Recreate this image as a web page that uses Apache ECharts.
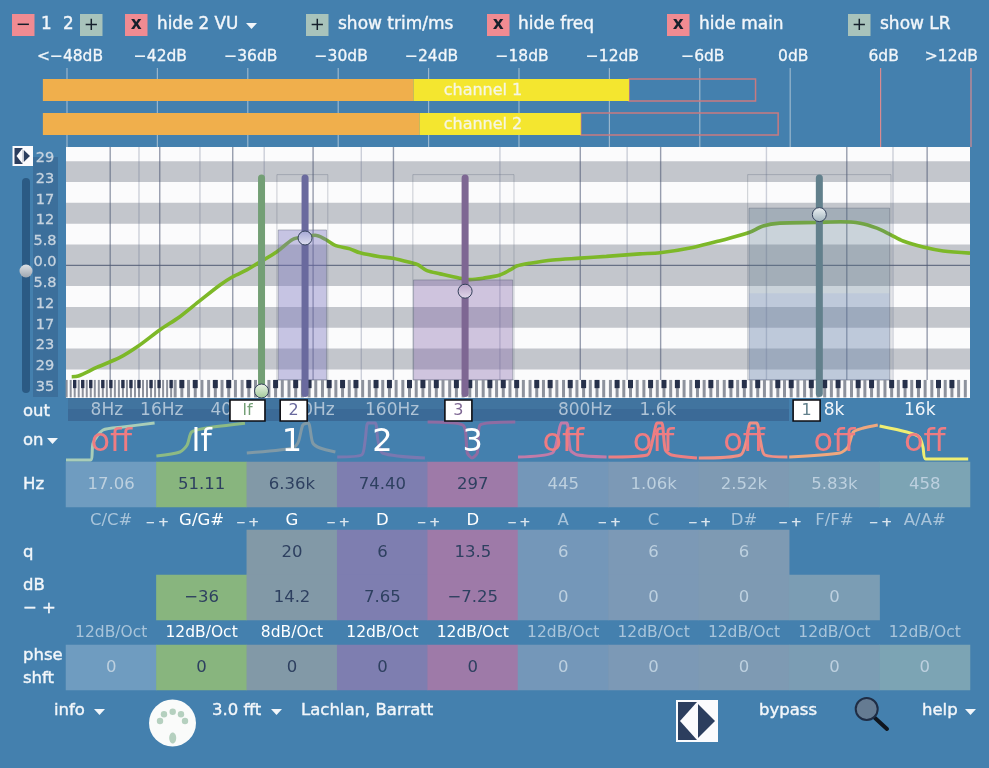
<!DOCTYPE html>
<html lang="en">
<head>
<meta charset="UTF-8">
<title>EQ plugin</title>
<style>
html,body{margin:0;padding:0;background:#4480ae;}
#chart{width:989px;height:768px;}
</style>
</head>
<body>
<div id="chart"></div>
<script src="https://cdn.jsdelivr.net/npm/echarts@6/dist/echarts.min.js"></script>
<script>
// level meter
var channelNames = ['channel 1', 'channel 2'];
var vuStart = [-49.6, -49.6];
var vuOrangeEnd = [-25, -24.6];
var vuYellowEnd = [-10.7, -13.9];
var vuPeak = [-2.3, -0.8];
var dbTicks = [-48, -42, -36, -30, -24, -18, -12, -6, 0, 6, 12];
var dbLabelAt = [-47.8, -41.8, -35.8, -29.8, -23.8, -17.8, -11.8, -5.8, 0.2, 6.2, 10.7];
var dbLabels = ['<−48dB', '−42dB', '−36dB', '−30dB', '−24dB', '−18dB', '−12dB', '−6dB', '0dB', '6dB', '>12dB'];

// eq display, x is semitones from the left edge of the keyboard, y is dB
// the scale labels sit a little above the stripe edges they name
var eqLabelAt = [30, 24.17, 18.34, 12.51, 6.67, 0.84, -4.99, -10.83, -16.66, -22.49, -28.33, -34.16];
var eqTickLabels = ['29', '23', '17', '12', '5.8', '0.0', '5.8', '12', '17', '23', '29', '35'];
var stripeHigh = [29.17, 17.5, 5.83, -11.67, -23.33];
var stripeLow = [23.33, 11.67, -5.83, -17.5, -29.17];
var majorLines = [6.6, 14, 24.9, 36.9, 48.9, 76.8, 88.8, 116.6, 128.6];
var minorLines = [10.9, 20, 29.6, 44.1, 64.8, 83.8, 104.6, 123.5];
var curvePos = [0.85, 1.84, 4.58, 8.06, 10.8, 14, 17, 20, 23, 24.9, 27, 28.5, 31.5, 33.9, 35.7, 37.2, 38.7, 40.2, 42.4, 43.9, 46.9, 48.8, 51.6, 52.6, 53.9, 55.9, 58.8, 60.3, 62.3, 64.8, 66.3, 67.3, 69.3, 72.7, 76.8, 80.7, 85.7, 88.7, 93.6, 97.7, 101.9, 104.1, 106.6, 112.1, 115.6, 118.6, 121.1, 123.1, 125, 128, 131, 135];
var curveDb = [-31.2, -31, -28.6, -25.8, -22.6, -18.1, -14.4, -9.9, -5.5, -3.2, -1.3, 0.4, 3.8, 7.3, 8, 8.4, 7.3, 5.6, 4.6, 3.5, 2.4, 2, 0.7, 0.1, -1.5, -2.4, -3.6, -4, -3.6, -2.7, -1.3, -0.2, 0.6, 1.5, 2, 2.5, 3.2, 3.5, 5, 6.9, 9.1, 11, 11.8, 12, 12.2, 11.8, 10.4, 8.6, 6.8, 5.1, 4, 3.4];

// filter bands drawn on the display
var bandNames = ['lf', '2', '3', '1'];
var bandPos = [29.2, 35.7, 59.6, 112.5];
var bandHandleDb = [-35.2, 7.65, -7.25, 14.2];
var bandColors = ['#739f75', '#6a6a9e', '#7e6793', '#62808c'];
var bandHandleTop = ['#eef5ea', '#a4a6d4', '#b8a4c8', '#f0f4f6'];
var bandHandleBottom = ['#9fc896', '#dfe0f0', '#e2d8ea', '#9fb2bc'];
var flagPos = [27.1, 34, 58.6, 110.6];
var flagWidth = [35, 27, 27, 27];
var boxFrom = [31.7, 51.9, 102, 102];
var boxTo = [38.9, 66.7, 123, 123];
var boxTopDb = [9.9, -4.1, 16, -7.8];
var boxFill = ['rgba(120,115,190,0.4)', 'rgba(125,95,165,0.35)', 'rgba(90,120,140,0.3)', 'rgba(130,150,215,0.16)'];
var outerFrom = [31.5, 51.8, 101.8];
var outerTo = [39.1, 66.9, 123.2];
var freqLabelPos = [6.1, 14.3, 24.8, 36.9, 48.7, 77.5, 88.4, 114.7, 127.5];
var freqLabels = ['8Hz', '16Hz', '40Hz', '80Hz', '160Hz', '800Hz', '1.6k', '8k', '16k'];
var keyBlackSteps = [0, 3, 5, 7, 10];
var keyFirst = -11, keyLast = 134, keySqueezeBelow = 16;

// filter table
var filterNames = ['off', 'lf', '1', '2', '3', 'off', 'off', 'off', 'off', 'off'];
var hzValues = ['17.06', '51.11', '6.36k', '74.40', '297', '445', '1.06k', '2.52k', '5.83k', '458'];
var noteNames = ['C/C#', 'G/G#', 'G', 'D', 'D', 'A', 'C', 'D#', 'F/F#', 'A/A#'];
var qValues = [null, null, '20', '6', '13.5', '6', '6', '6', null, null];
var gainValues = [null, '−36', '14.2', '7.65', '−7.25', '0', '0', '0', '0', null];
var slopeLabels = ['12dB/Oct', '12dB/Oct', '8dB/Oct', '12dB/Oct', '12dB/Oct', '12dB/Oct', '12dB/Oct', '12dB/Oct', '12dB/Oct', '12dB/Oct'];
var phaseValues = ['0', '0', '0', '0', '0', '0', '0', '0', '0', '0'];
var cellColors = ['#6f9cc0', '#88b57e', '#8299a7', '#7e7eb0', '#9e7aa8', '#7497b9', '#7c99b6', '#7e9ab3', '#7b9db4', '#7ca4b4'];
var curveColors = ['#a9cdb8', '#8dba84', '#8099a6', '#7a78b0', '#8f6ca2', '#c27ba8', '#ec7f82', '#ee8f85', '#efa77e', '#f0ee72'];

// little response curves above the table, x is column number, y is height in the strip
var miniCurves = [
  [[0, 2], [0.27, 2], [0.3, 19], [0.41, 32], [0.63, 35], [0.98, 39]],
  [[1, 6], [1.26, 10], [1.34, 17], [1.39, 30], [1.56, 34], [1.98, 38.7]],
  [[2, 9], [2.51, 14], [2.57, 20], [2.62, 37], [2.68, 39], [2.73, 19], [2.81, 14], [2.98, 10]],
  [[3, 5], [3.27, 7], [3.31, 22], [3.34, 39], [3.42, 39], [3.45, 22], [3.5, 9], [3.97, 4]],
  [[4, 40], [4.39, 37], [4.44, 9], [4.49, 4], [4.55, 9], [4.58, 37], [4.97, 40]],
  [[5, 5], [5.38, 9], [5.44, 25], [5.48, 39], [5.54, 39], [5.58, 12], [5.66, 7], [5.98, 5]],
  [[6, 5], [6.43, 7], [6.49, 22], [6.54, 39], [6.59, 39], [6.63, 12], [6.7, 7], [6.98, 4]],
  [[7, 4], [7.46, 7], [7.53, 22], [7.57, 39], [7.64, 39], [7.68, 22], [7.73, 7], [7.98, 5]],
  [[8, 5], [8.56, 9], [8.65, 15], [8.71, 30], [8.82, 34], [8.98, 37]],
  [[9, 36], [9.3, 30], [9.44, 25], [9.48, 15], [9.51, 3], [9.98, 3]]
];

var FONT = '"DejaVu Sans"';
var TEXT = '#f2f6fa';
var NAVY = '#2c3e5e';

function isOn(i) { return filterNames[i] !== 'off'; }

function cells(values, row) {
  var out = [];
  values.forEach(function (v, i) {
    if (v === null) return;
    out.push({
      value: [i, row, 1],
      itemStyle: { color: cellColors[i] },
      label: { show: true, formatter: v, color: isOn(i) ? '#2e4060' : '#bdd0df', fontSize: 16.5, fontFamily: FONT }
    });
  });
  return out;
}

function text(x, y, s, size, color, align) {
  var fill = color || TEXT;
  return {
    type: 'text', x: x, y: y, z: 5,
    style: { text: s, fontSize: size || 16, fontFamily: FONT, fill: fill, stroke: fill, lineWidth: 0.4, align: align || 'left', verticalAlign: 'middle' }
  };
}

function button(x, glyph) {
  var red = glyph !== '+';
  return [
    { type: 'rect', shape: { x: x, y: 14, width: 22.5, height: 22 }, style: { fill: red ? '#f08b92' : '#a8c3bb' } },
    { type: 'text', x: x + 11.2, y: 25, z: 5, style: { text: glyph, fontSize: glyph === 'x' ? 17 : 18, fontWeight: glyph === 'x' ? 'bold' : 'normal', fontFamily: FONT, fill: '#16202c', align: 'center', verticalAlign: 'middle' } }
  ];
}

function caret(x, y) {
  return { type: 'polygon', shape: { points: [[x, y], [x + 11, y], [x + 5.5, y + 6]] }, style: { fill: TEXT } };
}

function bowtie(x, y, w, h) {
  var m = x + w / 2, c = y + h / 2;
  return [
    { type: 'rect', shape: { x: x, y: y, width: w, height: h }, style: { fill: '#fbfbfd' } },
    { type: 'rect', shape: { x: x + 2, y: y + 2, width: w / 2 - 2, height: h - 4 }, style: { fill: NAVY } },
    { type: 'polygon', shape: { points: [[x + 4, c], [m, y + 2], [m, y + h - 2]] }, style: { fill: '#fbfbfd' } },
    { type: 'polygon', shape: { points: [[m + 1, y + 4], [x + w - 3, c], [m + 1, y + h - 4]] }, style: { fill: NAVY } }
  ];
}

var graphics = [];
graphics = graphics.concat(button(12, '−'), button(80, '+'), button(125, 'x'), button(306, '+'), button(487, 'x'), button(667, 'x'), button(848, '+'));
graphics.push(text(41, 25, '1', 16.8), text(63, 25, '2', 16.8), text(157, 25, 'hide 2 VU', 16.8), caret(246, 23),
  text(338, 25, 'show trim/ms', 17), text(518, 25, 'hide freq', 17), text(699, 25, 'hide main', 17), text(880, 25, 'show LR', 17));
graphics = graphics.concat(bowtie(12.5, 146, 20.5, 20), bowtie(676, 700, 42, 42));

// slider and label column left of the display
graphics.push(
  { type: 'rect', z: -1, shape: { x: 33, y: 157, width: 25, height: 240 }, style: { fill: '#3c6f9b' } },
  { type: 'rect', shape: { x: 22, y: 178, width: 8, height: 215, r: 4 }, style: { fill: '#2b5a84' } },
  { type: 'circle', z: 3, shape: { cx: 26, cy: 271, r: 6.5 }, style: { fill: { type: 'linear', x: 0, y: 0, x2: 0, y2: 1, colorStops: [{ offset: 0, color: '#dde0e4' }, { offset: 1, color: '#9ea6b0' }] } } },
  { type: 'rect', z: -1, shape: { x: 68, y: 398, width: 721, height: 11 }, style: { fill: '#41749f' } },
  { type: 'rect', z: -1, shape: { x: 68, y: 409, width: 721, height: 12 }, style: { fill: '#3b6a97' } },
  text(23, 412, 'out', 16.5), text(23, 441, 'on', 16.5), caret(47, 438)
);

// little - + marks between the columns
for (var b = 1; b < 10; b++) {
  graphics.push(text(66 + 90.4 * b - 6, 523, '−', 11, '#dbe6ef', 'center'), text(66 + 90.4 * b + 7, 523, '+', 13, '#dbe6ef', 'center'));
}

// footer
graphics.push(
  text(54, 711, 'info', 16.5), caret(94, 709),
  { type: 'circle', shape: { cx: 172.5, cy: 723, r: 23.5 }, style: { fill: '#fafbfa' } },
  { type: 'circle', z: 3, shape: { cx: 172.7, cy: 711.7, r: 3.2 }, style: { fill: '#b5d0bf' } },
  { type: 'circle', z: 3, shape: { cx: 164, cy: 714.3, r: 3.2 }, style: { fill: '#b5d0bf' } },
  { type: 'circle', z: 3, shape: { cx: 181, cy: 714.3, r: 3.2 }, style: { fill: '#b5d0bf' } },
  { type: 'circle', z: 3, shape: { cx: 160, cy: 721, r: 3.2 }, style: { fill: '#b5d0bf' } },
  { type: 'circle', z: 3, shape: { cx: 185, cy: 721, r: 3.2 }, style: { fill: '#b5d0bf' } },
  { type: 'ellipse', z: 3, shape: { cx: 172.7, cy: 738, rx: 3.5, ry: 5.5 }, style: { fill: '#b5d0bf' } },
  text(212, 711, '3.0 fft', 16.5), caret(271, 709), text(301, 711, 'Lachlan, Barratt', 16.5),
  text(759, 711, 'bypass', 16.5), text(922, 711, 'help', 16.5), caret(965, 709),
  { type: 'line', shape: { x1: 875, y1: 718, x2: 887, y2: 729 }, style: { stroke: '#10161f', lineWidth: 4, lineCap: 'round' } },
  { type: 'circle', z: 3, shape: { cx: 866.7, cy: 709, r: 11 }, style: { fill: 'rgba(112,122,136,0.75)', stroke: '#1f2d45', lineWidth: 2 } }
);

// rendering helpers for the display
var EQ_MIN = -37.16, KB_TOP = -32.1, KB_BLACK = -34.4, KB_BOTTOM = -37, STICK_TOP = 25.4, STICK_BOTTOM = -36.9;

function renderVuTicks(params, api) {
  var v = api.value(0), sys = params.coordSys, x = api.coord([v, 0])[0];
  return {
    type: 'line', silent: true,
    shape: { x1: x, y1: sys.y - 5, x2: x, y2: sys.y + sys.height + 6 },
    style: { stroke: v > 0 ? '#d98a90' : 'rgba(190,205,218,0.7)', lineWidth: 1.2 }
  };
}

function renderVu(params, api) {
  var row = api.value(0);
  var a = api.coord([api.value(1), row]), o = api.coord([api.value(2), row]), y = api.coord([api.value(3), row]), p = api.coord([api.value(4), row]);
  var top = a[1] - 11;
  return {
    type: 'group',
    children: [
      { type: 'rect', shape: { x: y[0], y: top, width: p[0] - y[0], height: 22 }, style: { fill: 'none', stroke: '#c97a80', lineWidth: 1.5 } },
      { type: 'rect', shape: { x: a[0], y: top, width: o[0] - a[0], height: 22 }, style: { fill: '#f0af4c' } },
      { type: 'rect', shape: { x: o[0], y: top, width: y[0] - o[0], height: 22 }, style: { fill: '#f4e62f' } },
      { type: 'text', x: 483, y: a[1] + 1, style: { text: channelNames[row], fontSize: 16, fontFamily: FONT, fill: '#f6f6e2', stroke: '#f6f6e2', lineWidth: 0.3, align: 'center', verticalAlign: 'middle' } }
    ]
  };
}

function renderStripe(params, api) {
  var sys = params.coordSys, hi = api.coord([0, api.value(0)])[1], lo = api.coord([0, api.value(1)])[1];
  return { type: 'rect', shape: { x: sys.x, y: hi, width: sys.width, height: lo - hi }, style: { fill: '#c3c6cc' } };
}

function renderLines(color) {
  return function (params, api) {
    var sys = params.coordSys, x = api.coord([api.value(0), 0])[0];
    return { type: 'line', shape: { x1: x, y1: sys.y, x2: x, y2: api.coord([0, KB_TOP])[1] }, style: { stroke: color, lineWidth: 1.4 } };
  };
}

function renderZero(params, api) {
  var sys = params.coordSys, y = api.coord([0, api.value(0)])[1];
  return { type: 'line', shape: { x1: sys.x, y1: y, x2: sys.x + sys.width, y2: y }, style: { stroke: 'rgba(80,90,115,0.8)', lineWidth: 1.2 } };
}

function renderBox(params, api) {
  var i = params.dataIndex;
  var l = api.coord([boxFrom[i], boxTopDb[i]]), r = api.coord([boxTo[i], KB_TOP]);
  return { type: 'rect', shape: { x: l[0], y: l[1], width: r[0] - l[0], height: r[1] - l[1] }, style: { fill: boxFill[i], stroke: i < 3 ? 'rgba(85,95,115,0.4)' : 'none', lineWidth: 1 } };
}

function renderOuter(params, api) {
  var i = params.dataIndex;
  var l = api.coord([outerFrom[i], STICK_TOP]), r = api.coord([outerTo[i], KB_TOP]);
  return { type: 'rect', shape: { x: l[0], y: l[1], width: r[0] - l[0], height: r[1] - l[1] }, style: { fill: 'none', stroke: 'rgba(85,95,115,0.3)', lineWidth: 1 } };
}

// keys are squeezed at the low end, the scale is not a pure octave scale there
function keyPos(k) {
  return k >= keySqueezeBelow ? k + 0.3 : keySqueezeBelow + 0.3 - (keySqueezeBelow - k) * 0.6;
}

function renderKey(params, api) {
  var k = api.value(0), x = api.coord([keyPos(k), 0])[0], low = k < keySqueezeBelow;
  var top = api.coord([0, KB_TOP])[1], bottom = api.coord([0, KB_BOTTOM])[1], mid = api.coord([0, KB_BLACK])[1];
  var gray = low ? 2 : 3, black = low ? 3.4 : 5;
  var children = [{ type: 'rect', shape: { x: x - gray / 2, y: top, width: gray, height: bottom - top }, style: { fill: '#8d929d' } }];
  if (keyBlackSteps.indexOf(((k % 12) + 12) % 12) >= 0) {
    children.push({ type: 'rect', shape: { x: x - black / 2, y: top, width: black, height: mid - top }, style: { fill: '#26304a' } });
  }
  return { type: 'group', children: children };
}

function renderStick(params, api) {
  var i = params.dataIndex, top = api.coord([bandPos[i], STICK_TOP]), bottom = api.coord([bandPos[i], STICK_BOTTOM]);
  return { type: 'rect', shape: { x: top[0] - 3.5, y: top[1], width: 7, height: bottom[1] - top[1], r: 3.5 }, style: { fill: bandColors[i] } };
}

function renderHandle(params, api) {
  var i = params.dataIndex, c = api.coord([bandPos[i], bandHandleDb[i]]);
  return {
    type: 'circle', shape: { cx: c[0], cy: c[1], r: 7 },
    style: {
      stroke: '#33405a', lineWidth: 1,
      fill: { type: 'linear', x: 0, y: 0, x2: 0, y2: 1, colorStops: [{ offset: 0, color: bandHandleTop[i] }, { offset: 1, color: bandHandleBottom[i] }] }
    }
  };
}

function renderFreqLabel(params, api) {
  var i = params.dataIndex, x = api.coord([freqLabelPos[i], 0])[0], y = api.coord([0, EQ_MIN])[1];
  return { type: 'text', x: x, y: y + 13, style: { text: freqLabels[i], fontSize: 17, fontFamily: FONT, fill: x < 700 ? '#aec3d6' : TEXT, align: 'center', verticalAlign: 'middle' } };
}

function renderFlag(params, api) {
  var i = params.dataIndex, x = api.coord([flagPos[i], 0])[0], y = api.coord([0, EQ_MIN])[1], w = flagWidth[i];
  return {
    type: 'group',
    children: [
      { type: 'rect', shape: { x: x - w / 2, y: y + 2, width: w, height: 21 }, style: { fill: '#ffffff', stroke: '#0d0d12', lineWidth: 1.6 } },
      { type: 'text', x: x, y: y + 12.5, style: { text: bandNames[i], fontSize: 16, fontFamily: FONT, fill: bandColors[i], align: 'center', verticalAlign: 'middle' } }
    ]
  };
}

function customOnEq(name, data, render, z) {
  return { name: name, type: 'custom', xAxisIndex: 1, yAxisIndex: 1, data: data, renderItem: render, z: z, clip: false, silent: true, animation: false };
}

function wrap(a) { return a.map(function (v) { return [v]; }); }

var keyList = [];
for (var k = keyFirst; k <= keyLast; k++) keyList.push([k]);

var series = [
  { type: 'custom', name: 'dbTicks', xAxisIndex: 0, yAxisIndex: 0, data: wrap(dbTicks), renderItem: renderVuTicks, z: 1, clip: false, silent: true },
  {
    type: 'custom', name: 'vu', xAxisIndex: 0, yAxisIndex: 0, renderItem: renderVu, z: 2, clip: false, silent: true,
    data: channelNames.map(function (n, i) { return [i, vuStart[i], vuOrangeEnd[i], vuYellowEnd[i], vuPeak[i]]; })
  },
  customOnEq('stripes', stripeHigh.map(function (h, i) { return [h, stripeLow[i]]; }), renderStripe, 1),
  customOnEq('minorLines', wrap(minorLines), renderLines('rgba(95,105,135,0.3)'), 1),
  customOnEq('majorLines', wrap(majorLines), renderLines('rgba(70,80,110,0.55)'), 1),
  customOnEq('zero', [[0]], renderZero, 1),
  {
    type: 'line', name: 'curve', xAxisIndex: 1, yAxisIndex: 1, z: 2, smooth: 0.3, showSymbol: false, silent: true,
    lineStyle: { color: '#7db828', width: 3.6 },
    data: curvePos.map(function (p, i) { return [p, curveDb[i]]; })
  },
  customOnEq('outer', wrap(outerFrom), renderOuter, 3),
  customOnEq('boxes', wrap(boxFrom), renderBox, 3),
  customOnEq('keys', keyList, renderKey, 4),
  customOnEq('sticks', wrap(bandPos), renderStick, 5),
  customOnEq('handles', wrap(bandPos), renderHandle, 6),
  customOnEq('freqLabels', wrap(freqLabelPos), renderFreqLabel, 6),
  customOnEq('flags', wrap(flagPos), renderFlag, 7),
  { type: 'heatmap', name: 'hz', xAxisIndex: 3, yAxisIndex: 3, data: cells(hzValues, 0), silent: true },
  { type: 'heatmap', name: 'q', xAxisIndex: 5, yAxisIndex: 4, data: cells(qValues, 0).concat(cells(gainValues, 1)), silent: true },
  { type: 'heatmap', name: 'phase', xAxisIndex: 6, yAxisIndex: 5, data: cells(phaseValues, 0), silent: true }
];

miniCurves.forEach(function (c, i) {
  series.push({
    type: 'line', name: 'mini' + i, xAxisIndex: 2, yAxisIndex: 2, data: c, smooth: 0.25, showSymbol: false, silent: true, z: 4,
    clip: false, lineStyle: { color: curveColors[i], width: 3 }
  });
});

function hiddenValue(grid, min, max) {
  return { type: 'value', gridIndex: grid, min: min, max: max, show: false };
}

function catAxis(grid, data, pos, label, z) {
  return {
    type: 'category', gridIndex: grid, data: data, position: pos, z: z || 0,
    axisLine: { show: false }, axisTick: { show: false }, splitLine: { show: false },
    axisLabel: Object.assign({ interval: 0, fontFamily: FONT }, label)
  };
}

function rowAxis(grid, data) {
  return {
    type: 'category', gridIndex: grid, data: data, inverse: true,
    axisLine: { show: false }, axisTick: { show: false }, splitLine: { show: false },
    axisLabel: { interval: 0, margin: 43, align: 'left', color: TEXT, fontSize: 16.5, fontFamily: FONT, lineHeight: 23, textBorderColor: TEXT, textBorderWidth: 0.4 }
  };
}

var option = {
  animation: false,
  backgroundColor: '#4480ae',
  grid: [
    { left: 36.86, top: 73, width: 934.14, height: 68 },
    { left: 66, top: 147, width: 904, height: 251, show: true, backgroundColor: '#fbfbfc', borderWidth: 0 },
    { left: 66, top: 422, width: 904, height: 40 },
    { left: 66, top: 462, width: 904, height: 45 },
    { left: 66, top: 530, width: 904, height: 90 },
    { left: 66, top: 645, width: 904, height: 45 }
  ],
  xAxis: [
    {
      type: 'value', gridIndex: 0, min: -50, max: 12, position: 'top',
      axisLine: { show: false }, axisTick: { show: false }, splitLine: { show: false },
      axisLabel: {
        customValues: dbLabelAt, margin: 8, color: TEXT, fontSize: 15.5, fontFamily: FONT, textBorderColor: TEXT, textBorderWidth: 0.3,
        formatter: function (v) { return dbLabels[dbLabelAt.indexOf(v)]; }
      }
    },
    hiddenValue(1, 0, 135),
    hiddenValue(2, 0, 10),
    catAxis(3, noteNames, 'bottom', {
      margin: 5, fontSize: 16.5,
      color: function (v, i) { return isOn(i) ? '#ffffff' : '#a9c4da'; }
    }),
    catAxis(3, filterNames, 'top', {
      margin: 3, fontSize: 32,
      color: function (v) { return v === 'off' ? '#ef7c82' : '#ffffff'; }
    }, 6),
    catAxis(4, slopeLabels, 'bottom', {
      margin: 5, fontSize: 15.5,
      color: function (v, i) { return isOn(i) ? '#ffffff' : '#a9c4da'; }
    }),
    catAxis(5, phaseValues, 'bottom', { show: false })
  ],
  yAxis: [
    { type: 'category', gridIndex: 0, data: channelNames, inverse: true, show: false },
    {
      type: 'value', gridIndex: 1, min: EQ_MIN, max: 33.13,
      axisLine: { show: false }, axisTick: { show: false }, splitLine: { show: false },
      axisLabel: {
        customValues: eqLabelAt, margin: 21, align: 'center',
        color: '#c6d3df', fontSize: 14.5, fontFamily: FONT, textBorderColor: '#c6d3df', textBorderWidth: 0.3,
        formatter: function (v) { return eqTickLabels[eqLabelAt.indexOf(v)]; }
      }
    },
    hiddenValue(2, 0, 40),
    rowAxis(3, ['Hz']),
    rowAxis(4, ['q', 'dB\n− +']),
    rowAxis(5, ['phse\nshft'])
  ],
  graphic: { elements: graphics },
  series: series
};

var chart = echarts.init(document.getElementById('chart'));
chart.setOption(option);
</script>
</body>
</html>
